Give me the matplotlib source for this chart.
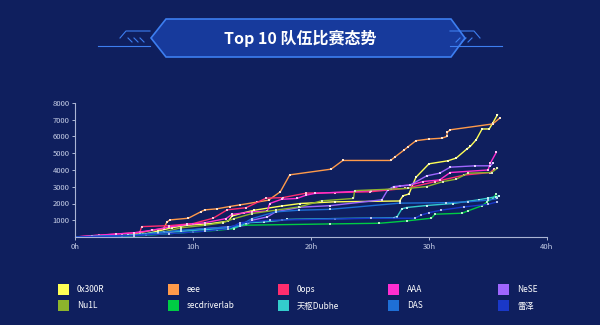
import matplotlib
matplotlib.use('Agg')
import matplotlib.pyplot as plt
from matplotlib.patches import Polygon, Rectangle
from matplotlib.lines import Line2D
import numpy as np

plt.rcParams['font.family'] = ['Noto Sans CJK SC', 'DejaVu Sans']

# team names and colours (legend order)
teams = ['0x300R', 'eee', '0ops', 'AAA', 'NeSE',
         'Nu1L', 'secdriverlab', '天枢Dubhe', 'DAS', '雷泽']
colors = ['#ffff55', '#ff9a4a', '#ff2d6e', '#ff2ed0', '#9f66ff',
          '#8db42c', '#00cc44', '#33cccc', '#1e6fd6', '#1a38c8']

# score curves, hours since start / points
h_0x300r = [0, 4.5, 5.8, 7, 8.2, 9.5, 11.5, 13.0, 13.3, 14.3, 15.2, 17.5, 19.1, 22.0, 27.5,
            27.8, 28.3, 28.7, 28.9, 30.0, 31.6, 32.3, 33.2, 33.5, 34.0, 34.5, 35.1, 35.4, 35.8]
v_0x300r = [0, 60, 150, 350, 550, 700, 800, 950, 1250, 1450, 1600, 1850, 2000, 2100, 2150,
            2460, 2570, 3250, 3570, 4370, 4550, 4710, 5250, 5410, 5810, 6450, 6450, 6800, 7300]

h_eee = [0, 3, 4.5, 5.5, 6.5, 7.5, 7.8, 8.05, 9.6, 10.7, 11.0, 12.0, 13.1, 14.0, 15.4, 16.4,
         17.4, 18.2, 21.7, 22.7, 26.75, 27.1, 27.9, 28.25, 28.9, 30.0, 31.1, 31.5, 31.55, 31.8,
         35.4, 36.0]
v_eee = [0, 50, 100, 250, 400, 500, 900, 1020, 1120, 1520, 1620, 1680, 1820, 1920, 2080, 2200,
         2700, 3710, 4050, 4570, 4570, 4770, 5200, 5400, 5750, 5850, 5900, 6000, 6250, 6400,
         6750, 7100]

h_0ops = [0, 2, 4, 5.5, 5.65, 8.0, 10.0, 11.7, 12.9, 14.5, 16.2, 17.6, 19.6, 22, 25, 28,
          30.5, 33, 35.2, 35.5]
v_0ops = [0, 100, 200, 280, 620, 680, 800, 1120, 1620, 1750, 2320, 2350, 2620, 2650, 2700,
          2900, 3300, 3700, 3850, 4050]

h_aaa = [0, 1.4, 3.5, 5.0, 6.5, 8.0, 9.5, 11.0, 12.8, 13.3, 15.0, 16.3, 16.5, 17.5, 18.8,
         19.6, 20.3, 25.1, 26.8, 27.5, 28.4, 29.5, 30.9, 31.8, 35.0, 35.2, 35.7]
v_aaa = [0, 80, 180, 250, 400, 600, 750, 850, 1100, 1350, 1500, 1550, 2000, 2250, 2300,
         2500, 2600, 2770, 2850, 3050, 3100, 3310, 3410, 3850, 4000, 4410, 5050]

h_nese = [0, 3, 5, 7, 9, 11, 13, 14.5, 15, 16.3, 17, 19.1, 21.6, 26.0, 26.5, 27.0, 28.4,
          29.8, 30.9, 31.8, 33.9, 35.2, 35.4]
v_nese = [0, 50, 100, 200, 350, 500, 600, 700, 1000, 1200, 1500, 1780, 1870, 2220, 2810,
          3010, 3100, 3650, 3810, 4170, 4250, 4250, 4400]

h_nu1l = [0, 4, 6, 7.5, 9, 11, 12.5, 13.5, 15, 17, 19, 20.9, 23.6, 23.7, 28.2, 29.8, 31.2,
          32.3, 33.3, 35.3, 35.8]
v_nu1l = [0, 50, 150, 300, 550, 700, 850, 1100, 1400, 1600, 1800, 2160, 2300, 2770, 2900,
          3010, 3310, 3450, 3810, 3850, 4110]

h_sec = [0, 4, 6, 8, 10, 12, 13.5, 14, 21.6, 25.8, 28.1, 30.2, 30.5, 32.8, 33.3, 34.5,
         34.9, 35.4, 35.7]
v_sec = [0, 40, 100, 200, 300, 400, 500, 700, 780, 820, 960, 1120, 1360, 1420, 1560, 1870,
         2080, 2320, 2550]

h_dubhe = [0, 4.5, 6, 7.5, 9, 11, 13, 14, 14.5, 16, 17.5, 18, 22, 27, 27.3, 27.7, 28.1,
           29.8, 32, 34.2, 35.0, 35.7, 35.9]
v_dubhe = [0, 100, 200, 300, 350, 450, 500, 650, 850, 900, 1000, 1050, 1100, 1150, 1220,
           1680, 1760, 1880, 2000, 2220, 2320, 2410, 2450]

h_das = [0, 5, 7, 9, 11, 13, 14, 15, 17, 19, 21.6, 27.5, 31.4, 33.3, 35.0, 35.8]
v_das = [0, 100, 250, 400, 500, 600, 700, 1100, 1500, 1600, 1650, 2020, 2050, 2100, 2200, 2300]

h_leize = [0, 5, 8, 11, 13, 14, 16.5, 25.1, 28.8, 29.3, 30, 31, 33, 35, 35.8]
v_leize = [0, 80, 200, 350, 500, 850, 1000, 1120, 1120, 1300, 1450, 1600, 1800, 1950, 2100]

hours = [h_0x300r, h_eee, h_0ops, h_aaa, h_nese, h_nu1l, h_sec, h_dubhe, h_das, h_leize]
scores = [v_0x300r, v_eee, v_0ops, v_aaa, v_nese, v_nu1l, v_sec, v_dubhe, v_das, v_leize]

bg = '#0f1f5e'
W, H = 600, 325


def px(x, y):
    # pixel coords (top-left origin) -> figure fraction
    return x / W, 1 - y / H


def lighten(c, amt=0.6):
    c = np.array(matplotlib.colors.to_rgb(c))
    return tuple(c + (1 - c) * amt)


fig = plt.figure(figsize=(6, 3.25), dpi=100, facecolor=bg)

# title banner
hexagon = [px(151, 38), px(166, 19), px(451, 19), px(465, 38), px(451, 57), px(166, 57)]
fig.add_artist(Polygon(hexagon, closed=True, transform=fig.transFigure,
                       facecolor='#173a9c', edgecolor='#3d7ef0', lw=1.2))
fig.text(0.5, 1 - 38 / H, 'Top 10 队伍比赛态势', color='white', fontsize=11.5,
         fontweight='bold', ha='center', va='center')
deco = '#3d7ef0'
for s in (1, -1):
    cx = lambda x: 300 + s * (x - 300)
    fig.add_artist(Line2D([px(cx(98), 0)[0], px(cx(150), 0)[0]], [px(0, 46)[1]] * 2,
                          transform=fig.transFigure, color=deco, lw=0.8))
    fig.add_artist(Line2D([px(cx(120), 0)[0], px(cx(126), 0)[0], px(cx(150), 0)[0]],
                          [px(0, 38)[1], px(0, 31)[1], px(0, 31)[1]],
                          transform=fig.transFigure, color=deco, lw=0.8))
    for x0 in (128, 134, 140):
        fig.add_artist(Line2D([px(cx(x0), 0)[0], px(cx(x0 + 4), 0)[0]],
                              [px(0, 38)[1], px(0, 42)[1]],
                              transform=fig.transFigure, color=deco, lw=0.8))

ax = fig.add_axes([75 / W, 1 - 237 / H, (547 - 75) / W, (237 - 103) / H])
ax.set_facecolor(bg)

for h, v, c in zip(hours, scores, colors):
    ax.plot(h, v, color=c, lw=1.0, marker='s', ms=1.8,
            markerfacecolor=lighten(c, 0.7), markeredgewidth=0)

ax.set_xlim(0, 40)
ax.set_ylim(0, 8000)
ax.set_xticks([0, 10, 20, 30, 40])
ax.set_xticklabels(['0h', '10h', '20h', '30h', '40h'])
ax.set_yticks(range(1000, 8001, 1000))
ax.tick_params(colors='#c8d0e8', labelsize=5.5, length=2, width=0.6, pad=2)
for sp in ('top', 'right'):
    ax.spines[sp].set_visible(False)
for sp in ('left', 'bottom'):
    ax.spines[sp].set_color('#aab4d4')
    ax.spines[sp].set_linewidth(0.8)

# legend, 2 rows x 5 cols
col_x = [58, 168, 278, 388, 498]
row_y = [290, 306]
for i, (t, c) in enumerate(zip(teams, colors)):
    x = col_x[i % 5]
    y = row_y[i // 5]
    fx, fy = px(x, y + 5)
    fig.add_artist(Rectangle((fx, fy), 11 / W, 11 / H, transform=fig.transFigure,
                             facecolor=c, edgecolor='none'))
    fig.text(px(x + 19, 0)[0], px(0, y)[1], t, color='white', fontsize=6,
             ha='left', va='center')

fig.savefig('out.png', dpi=100, facecolor=bg)
